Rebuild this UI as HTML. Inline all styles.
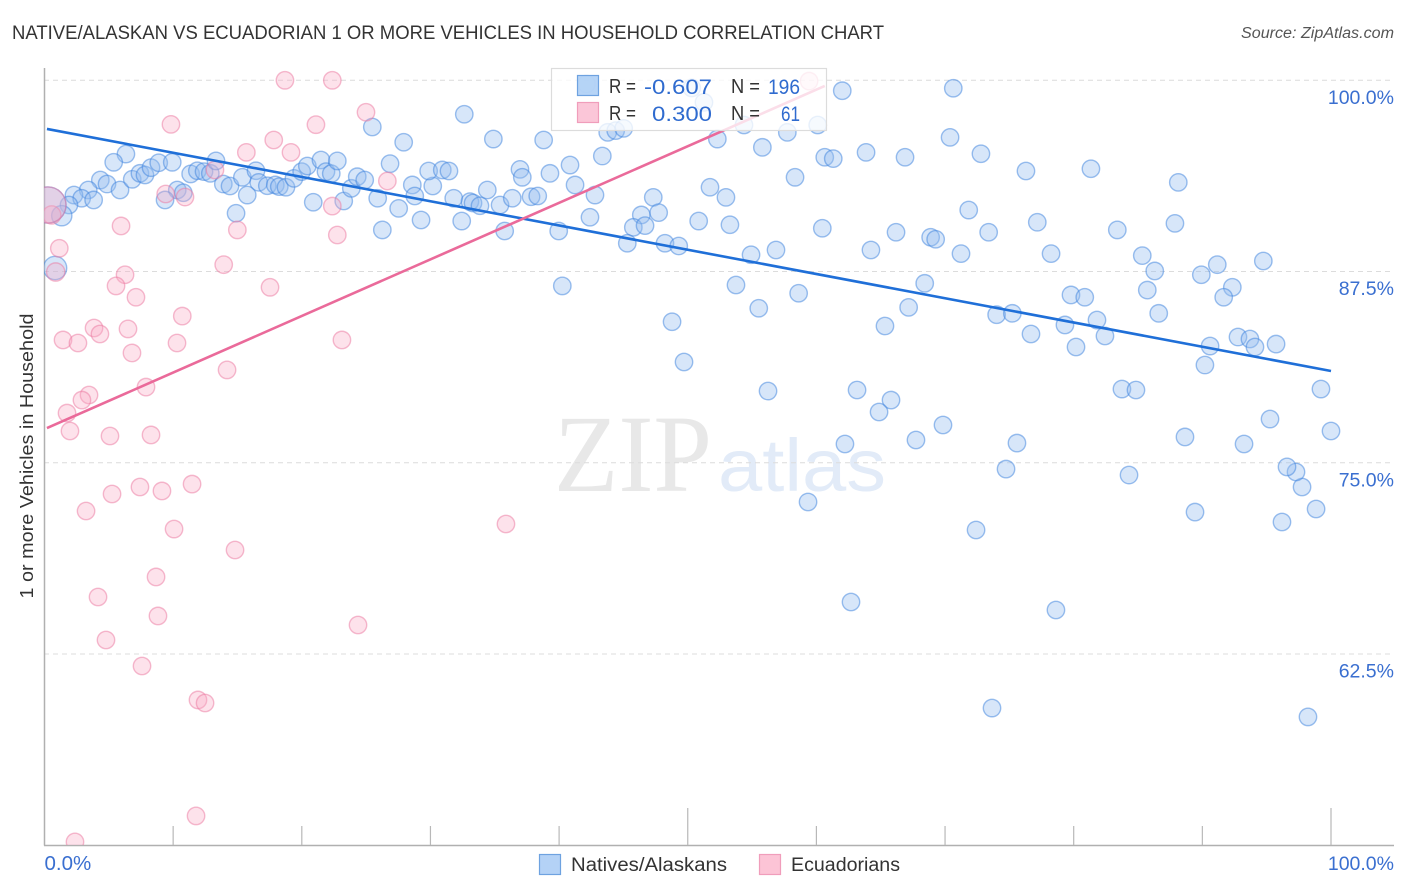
<!DOCTYPE html>
<html lang="en">
<head>
<meta charset="utf-8">
<title>Native/Alaskan vs Ecuadorian correlation chart</title>
<style>
html,body{margin:0;padding:0;background:#fff;width:1406px;height:892px;overflow:hidden}
svg{display:block}
text{font-family:"Liberation Sans",sans-serif}
</style>
</head>
<body>
<svg id="chart" width="1406" height="892" viewBox="0 0 1406 892" xmlns="http://www.w3.org/2000/svg">
  <defs><clipPath id="plot-clip"><rect x="44" y="60" width="1350" height="785"/></clipPath></defs>
  <text x="12" y="39" font-size="19" fill="#333" textLength="872" lengthAdjust="spacingAndGlyphs">NATIVE/ALASKAN VS ECUADORIAN 1 OR MORE VEHICLES IN HOUSEHOLD CORRELATION CHART</text>
  <text x="1241" y="38" font-size="15.5" font-style="italic" fill="#555" textLength="153" lengthAdjust="spacingAndGlyphs">Source: ZipAtlas.com</text>
  <g>
    <text x="554" y="491" font-size="110" fill="#e8e8e8" textLength="158" lengthAdjust="spacingAndGlyphs" style="font-family:'Liberation Serif',serif">ZIP</text>
    <text x="718" y="491" font-size="74" fill="#e2ebf8" textLength="168" lengthAdjust="spacingAndGlyphs">atlas</text>
  </g>
  <g id="grid"></g>
  <g id="axes"></g>
  <g id="points" clip-path="url(#plot-clip)"></g>
  <g id="trends"></g>
  <text transform="translate(33,456) rotate(-90)" font-size="18.5" fill="#333" text-anchor="middle" textLength="285" lengthAdjust="spacingAndGlyphs">1 or more Vehicles in Household</text>
  <g>
    <rect x="551.5" y="68.5" width="275" height="62" fill="#fff" fill-opacity="0.78" stroke="#dcdcdc" stroke-width="1.2"/>
    <rect x="577.5" y="75.5" width="21" height="20" fill="#a9cdf5" fill-opacity="0.85" stroke="#6ea2e0" stroke-width="1.2"/>
    <rect x="577.5" y="102.5" width="21" height="20" fill="#fbc0d4" fill-opacity="0.9" stroke="#f09dbb" stroke-width="1.2"/>
    <text x="609" y="93" font-size="20" fill="#333" textLength="27" lengthAdjust="spacingAndGlyphs">R =</text>
    <text x="644" y="94" font-size="21.5" fill="#2f6bcf" textLength="68" lengthAdjust="spacingAndGlyphs">-0.607</text>
    <text x="731" y="93" font-size="20" fill="#333" textLength="29" lengthAdjust="spacingAndGlyphs">N =</text>
    <text x="768" y="94" font-size="21.5" fill="#2f6bcf" textLength="32" lengthAdjust="spacingAndGlyphs">196</text>
    <text x="609" y="120" font-size="20" fill="#333" textLength="27" lengthAdjust="spacingAndGlyphs">R =</text>
    <text x="652" y="121" font-size="21.5" fill="#2f6bcf" textLength="60" lengthAdjust="spacingAndGlyphs">0.300</text>
    <text x="731" y="120" font-size="20" fill="#333" textLength="29" lengthAdjust="spacingAndGlyphs">N =</text>
    <text x="781" y="121" font-size="21.5" fill="#2f6bcf" textLength="19" lengthAdjust="spacingAndGlyphs">61</text>
  </g>
  <g>
    <g>
      <rect x="539.5" y="854.5" width="21" height="20" fill="#b4d2f6" stroke="#6ea2e0" stroke-width="1.2"/>
      <text x="571" y="871" font-size="19" fill="#333" textLength="156" lengthAdjust="spacingAndGlyphs">Natives/Alaskans</text>
    </g>
    <g>
      <rect x="759.5" y="854.5" width="21" height="20" fill="#fcc4d6" stroke="#f09dbb" stroke-width="1.2"/>
      <text x="791" y="871" font-size="19" fill="#333" textLength="109" lengthAdjust="spacingAndGlyphs">Ecuadorians</text>
    </g>
  </g>
</svg>
<script>
const blueX = [6.33,5.38,4.34,4.86,5.87,3.40,2.29,2.89,3.82,1.90,1.34,6.82,7.42,7.81,8.28,8.88,9.93,11.36,11.88,12.40,12.89,13.33,10.32,10.79,9.37,13.90,14.42,15.38,15.76,14.89,16.44,16.65,17.32,17.94,18.25,18.77,19.39,19.99,20.43,21.49,21.88,22.29,22.76,20.89,23.26,23.85,24.31,24.89,25.90,25.48,26.86,27.92,27.53,26.26,28.59,28.78,29.27,30.18,29.86,30.92,31.44,31.81,32.43,32.63,33.07,0.82,0.27,33.31,33.85,34.89,38.80,34.42,35.41,36.36,35.77,36.96,37.14,39.29,40.85,41.24,37.82,38.34,39.97,42.40,42.79,43.36,43.78,44.40,45.02,52.30,54.37,55.80,57.74,60.10,62.01,60.65,61.31,63.86,66.89,58.34,51.73,52.97,47.32,46.39,47.74,45.77,46.68,50.85,53.28,45.30,48.23,49.30,54.92,56.86,60.46,66.19,64.24,68.88,69.27,68.42,67.17,53.75,58.62,55.52,40.25,48.78,65.33,42.13,51.26,50.31,70.64,70.39,72.79,76.29,81.34,88.13,71.84,73.39,77.17,83.39,87.87,71.24,78.24,85.33,86.30,85.72,79.79,80.86,89.92,91.16,94.74,92.33,91.66,86.61,81.81,79.32,74.01,75.23,76.68,80.18,82.43,90.60,90.20,92.77,93.70,94.09,95.73,99.22,100.00,95.26,93.24,88.65,83.75,84.84,84.30,75.59,74.74,69.84,67.74,65.80,64.87,63.16,62.22,59.35,62.69,72.41,78.62,73.65,98.21,89.43,96.19,98.84,97.75,97.28,96.58,56.24,49.71];
const blueY = [95.18,94.64,93.48,93.22,92.83,92.83,92.50,92.29,92.18,91.85,91.15,93.53,93.92,93.81,94.29,94.61,94.64,93.88,94.09,94.03,93.92,94.73,92.83,92.65,92.18,93.22,93.09,93.66,92.50,91.31,94.09,93.33,93.11,93.16,93.05,93.01,93.59,94.03,94.40,94.79,94.03,93.90,94.73,92.03,92.11,92.94,93.70,93.48,92.29,96.95,94.55,95.95,91.63,90.22,93.16,92.44,90.87,93.09,94.07,94.14,94.07,92.29,90.80,97.78,92.07,87.73,91.85,91.98,91.80,96.16,96.10,92.83,91.85,92.29,90.15,94.18,93.66,93.92,94.46,93.16,92.39,92.44,90.15,91.05,92.50,95.05,96.60,96.71,96.86,96.16,97.08,95.62,96.60,97.08,99.32,94.97,94.88,95.29,94.97,93.66,93.01,92.35,92.35,91.20,91.35,90.39,90.50,90.80,90.56,89.35,89.35,89.17,88.60,88.91,90.33,90.07,88.91,89.74,89.61,86.73,85.16,86.62,86.08,85.10,86.56,84.22,83.94,99.76,98.56,99.50,99.48,96.27,95.20,94.07,94.22,93.33,91.52,90.07,90.72,90.22,90.65,88.67,88.67,88.54,87.54,86.29,85.97,85.82,87.29,87.95,88.19,86.47,85.82,84.77,84.33,84.01,84.68,84.77,83.42,82.57,83.29,82.63,81.39,83.22,83.09,82.57,82.76,79.82,77.08,77.86,76.23,76.69,79.82,79.76,74.20,76.29,74.59,77.47,76.49,79.10,78.32,79.76,76.23,72.44,65.90,70.61,65.38,58.97,58.39,71.78,71.13,71.98,73.42,74.40,74.73,79.69,81.59];
const pinkX = [18.69,22.37,24.99,9.83,21.10,17.82,19.16,15.69,13.25,9.42,10.92,5.95,14.99,22.37,22.76,26.65,1.15,0.56,0.87,6.26,5.56,7.11,13.93,17.53,10.71,0.27,23.12,10.30,14.19,6.80,6.49,3.85,4.31,1.44,2.60,7.89,3.46,2.91,1.75,1.98,5.09,8.28,5.25,3.23,7.42,9.13,11.47,10.07,14.81,35.87,24.37,8.67,4.16,8.82,4.78,7.58,11.93,12.48,11.78,2.37,59.43];
const pinkY = [100.00,100.00,97.91,97.12,97.10,96.10,95.29,95.29,94.14,92.57,92.37,90.48,90.22,91.78,89.89,93.42,89.02,91.20,87.47,87.29,86.56,85.82,87.95,86.47,84.59,91.85,83.03,82.83,81.07,82.18,83.75,83.81,83.42,83.03,82.83,79.95,79.43,79.10,78.25,77.08,76.75,76.82,72.96,71.85,73.42,73.16,73.61,70.67,69.30,71.00,64.40,67.54,66.23,64.99,63.42,61.72,59.50,59.30,51.92,50.22,99.95];
const blueLargeIndex = [10, 65, 66];
const blueLargeWeight = [1.35, 1.8, 4.3];
const pinkLargeIndex = [17, 18, 25];
const pinkLargeWeight = [1.1, 1.1, 4.3];
const blueTrendX = [0.19, 100];
const blueTrendY = [96.82, 81.0];
const pinkTrendX = [0.19, 60.65];
const pinkTrendY = [77.27, 99.63];
const yTickValues = [100, 87.5, 75, 62.5];
const yTickLabels = ["100.0%", "87.5%", "75.0%", "62.5%"];
const xTickValues = [0, 10, 20, 30, 40, 50, 60, 70, 80, 90, 100];
const xTickMajor = [50, 100];
const xEndValues = [0, 100];
const xEndLabels = ["0.0%", "100.0%"];

const NS = "http://www.w3.org/2000/svg";
function xPos(v) { return 44.5 + v * 12.865; }
function yPos(v) { return 80.3 + (100 - v) * 15.3; }
function make(tag, attrs, parent) {
  const el = document.createElementNS(NS, tag);
  for (const k in attrs) el.setAttribute(k, attrs[k]);
  parent.appendChild(el);
  return el;
}
const gridG = document.getElementById("grid");
const axesG = document.getElementById("axes");
const pointsG = document.getElementById("points");
const trendsG = document.getElementById("trends");

yTickValues.forEach(function (v, i) {
  const line = make("line", {x1: 44, x2: 1393, y1: yPos(v), y2: yPos(v), stroke: "#dcdcdc", "stroke-width": 1, "stroke-dasharray": "5 4"}, gridG);
  
  
  const label = make("text", {x: 1394, y: yPos(v) + 23.5, "font-size": 19.5, fill: "#3a6fd0", "text-anchor": "end"}, axesG);
  label.textContent = yTickLabels[i];
  
  
});

const yAxis = make("line", {x1: 44.5, x2: 44.5, y1: 68, y2: 845.5, stroke: "#b0b0b0", "stroke-width": 1.5}, axesG);


const xAxis = make("line", {x1: 44, x2: 1394, y1: 845.5, y2: 845.5, stroke: "#b0b0b0", "stroke-width": 1.5}, axesG);



xTickValues.forEach(function (v) {
  if (v === 0) return;
  const major = xTickMajor.indexOf(v) >= 0;
  const tick = make("line", {x1: xPos(v), x2: xPos(v), y1: major ? 808 : 826, y2: 845, stroke: "#b8b8b8", "stroke-width": 1.2}, axesG);
  
  
});

xEndValues.forEach(function (v, i) {
  const label = make("text", {x: i === 0 ? xPos(v) : 1394, y: 870, "font-size": i === 0 ? 20.5 : 19.5, fill: "#3a6fd0", "text-anchor": i === 0 ? "start" : "end"}, axesG);
  label.textContent = xEndLabels[i];
  
  
});

function radius(i, idx, wt) {
  const k = idx.indexOf(i);
  return 8.7 * Math.sqrt(k >= 0 ? wt[k] : 1);
}
blueX.forEach(function (x, i) {
  const c = make("circle", {cx: xPos(x), cy: yPos(blueY[i]), r: radius(i, blueLargeIndex, blueLargeWeight), fill: "rgba(150,190,240,0.38)", stroke: "rgba(60,130,222,0.5)", "stroke-width": 1.4}, pointsG);
  
  
});
pinkX.forEach(function (x, i) {
  const c = make("circle", {cx: xPos(x), cy: yPos(pinkY[i]), r: radius(i, pinkLargeIndex, pinkLargeWeight), fill: "rgba(250,170,195,0.34)", stroke: "rgba(236,120,160,0.5)", "stroke-width": 1.4}, pointsG);
  
  
});

const blueTrend = make("line", {x1: xPos(blueTrendX[0]), y1: yPos(blueTrendY[0]), x2: xPos(blueTrendX[1]), y2: yPos(blueTrendY[1]), stroke: "#1f6fd8", "stroke-width": 2.6}, trendsG);


const pinkTrend = make("line", {x1: xPos(pinkTrendX[0]), y1: yPos(pinkTrendY[0]), x2: xPos(pinkTrendX[1]), y2: yPos(pinkTrendY[1]), stroke: "#ea6a9a", "stroke-width": 2.6}, trendsG);


</script>
</body>
</html>
